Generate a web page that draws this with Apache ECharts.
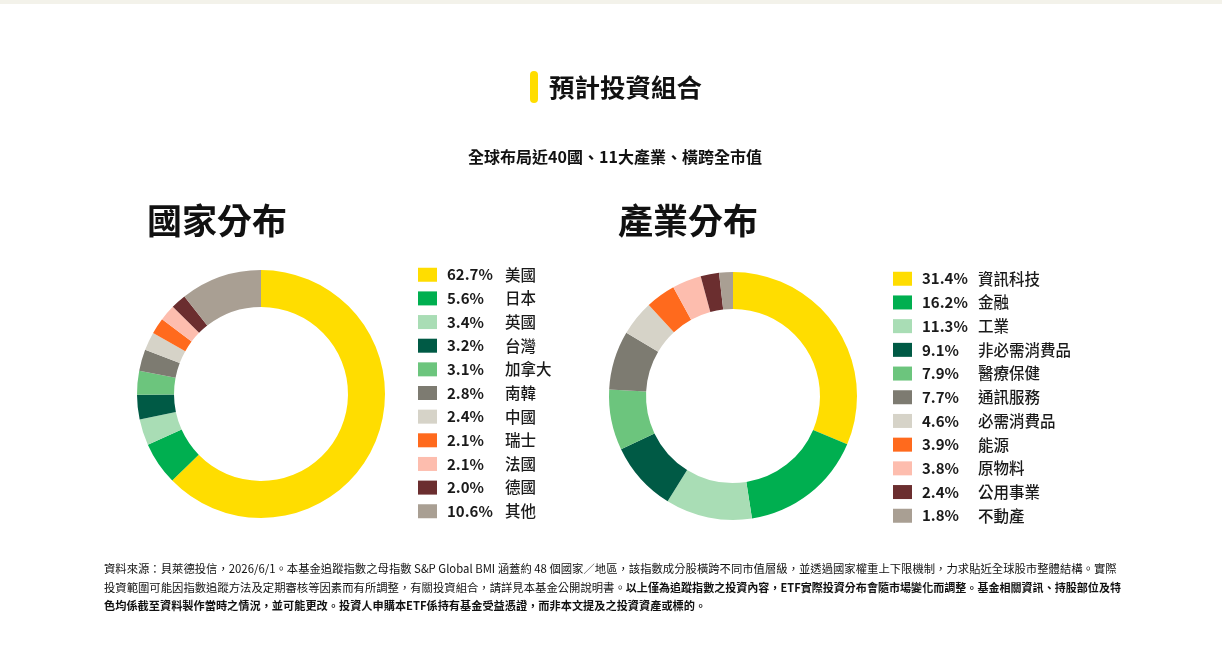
<!DOCTYPE html>
<html><head><meta charset="utf-8">
<script src="https://cdn.jsdelivr.net/npm/echarts@6/dist/echarts.min.js"></script>
<style>html,body{margin:0;padding:0;background:#fff}#c{width:1222px;height:658px}</style>
</head><body><div id="c"></div>
<script>
const countryNames = ['美國','日本','英國','台灣','加拿大','南韓','中國','瑞士','法國','德國','其他'];
const countryValues = [62.7,5.6,3.4,3.2,3.1,2.8,2.4,2.1,2.1,2.0,10.6];
const sectorNames = ['資訊科技','金融','工業','非必需消費品','醫療保健','通訊服務','必需消費品','能源','原物料','公用事業','不動產'];
const sectorValues = [31.4,16.2,11.3,9.1,7.9,7.7,4.6,3.9,3.8,2.4,1.8];
const palette = ['#FFDD00','#00AF50','#A9DDB5','#005A45','#6CC57D','#7D7B71','#D6D3C8','#FF6A1D','#FDBDAE','#6B2E2F','#A99F93'];

const FONT = '"Noto Sans CJK TC", "Noto Sans", sans-serif';
const chart = echarts.init(document.getElementById('c'), null, {renderer:'canvas'});

function lookup(names, values){ const m={}; names.forEach((n,i)=>m[n]=values[i]); return m; }
const cMap = lookup(countryNames, countryValues);
const sMap = lookup(sectorNames, sectorValues);

function legendCfg(id, left, top, names, map, pctW, gap){
  return {
    id, left, top, orient:'vertical', data:names, selectedMode:false, padding:0,
    icon:'rect', itemWidth:19, itemHeight:14, itemGap:gap,
    formatter: n => '{s|}{p|' + map[n].toFixed(1) + '%}{n|' + n + '}',
    textStyle:{
      rich:{
        s:{width:5},
        p:{width:pctW, fontFamily:FONT, fontSize:15, fontWeight:'bold', color:'#1a1a1a', lineHeight:16},
        n:{fontFamily:FONT, fontSize:15.5, fontWeight:500, color:'#1a1a1a', lineHeight:16}
      }
    }
  };
}

function pie(name, center, names, values){
  return {
    type:'pie', name, center, radius:[87,124], startAngle:90, clockwise:true,
    label:{show:false}, labelLine:{show:false}, silent:true,
    emphasis:{disabled:true}, animation:false,
    data: names.map((n,i)=>({name:n, value:values[i], itemStyle:{color:palette[i]}}))
  };
}

chart.setOption({
  animation:false,
  color: palette,
  legend:[
    legendCfg('l1', 418, 267, countryNames, cMap, 58, 8.15),
    legendCfg('l2', 893, 271, sectorNames, sMap, 56, 8.2)
  ],
  series:[
    pie('國家分布', [261,394], countryNames, countryValues),
    pie('產業分布', [733,396], sectorNames, sectorValues)
  ],
  graphic:[
    {type:'rect', shape:{x:0,y:0,width:1222,height:4}, style:{fill:'#F3F2EA'}, silent:true},
    {type:'rect', shape:{x:530,y:71,width:8,height:32,r:4}, style:{fill:'#FFDD00'}},
    {type:'text', x:549, y:87, style:{text:'預計投資組合', font:'bold 25.5px '+FONT, fill:'#111', verticalAlign:'middle'}},
    {type:'text', x:615, y:157, style:{text:'全球布局近40國、11大產業、橫跨全市值', font:'bold 16px '+FONT, fill:'#111', align:'center', verticalAlign:'middle'}},
    {type:'text', x:147, y:221, style:{text:'國家分布', font:'bold 35px '+FONT, fill:'#111', verticalAlign:'middle'}},
    {type:'text', x:618, y:221, style:{text:'產業分布', font:'bold 35px '+FONT, fill:'#111', verticalAlign:'middle'}},
    {type:'text', x:104, y:569, style:{text:'資料來源：貝萊德投信，2026/6/1。本基金追蹤指數之母指數 S&P Global BMI 涵蓋約 48 個國家／地區，該指數成分股橫跨不同市值層級，並透過國家權重上下限機制，力求貼近全球股市整體結構。實際', font:'11.35px '+FONT, fill:'#111', verticalAlign:'middle'}},
    {type:'text', x:104, y:588, style:{
      text:'{a|投資範圍可能因指數追蹤方法及定期審核等因素而有所調整，有關投資組合，請詳見本基金公開說明書。}{b|以上僅為追蹤指數之投資內容，ETF實際投資分布會隨市場變化而調整。基金相關資訊、持股部位及特}',
      verticalAlign:'middle',
      rich:{a:{fontFamily:FONT, fontSize:11.35, fill:'#111'}, b:{fontFamily:FONT, fontSize:11.05, fontWeight:'bold', fill:'#111'}}
    }},
    {type:'text', x:104, y:606, style:{text:'色均係截至資料製作當時之情況，並可能更改。投資人申購本ETF係持有基金受益憑證，而非本文提及之投資資產或標的。', font:'bold 11.2px '+FONT, fill:'#111', verticalAlign:'middle'}}
  ]
});
</script></body></html>
